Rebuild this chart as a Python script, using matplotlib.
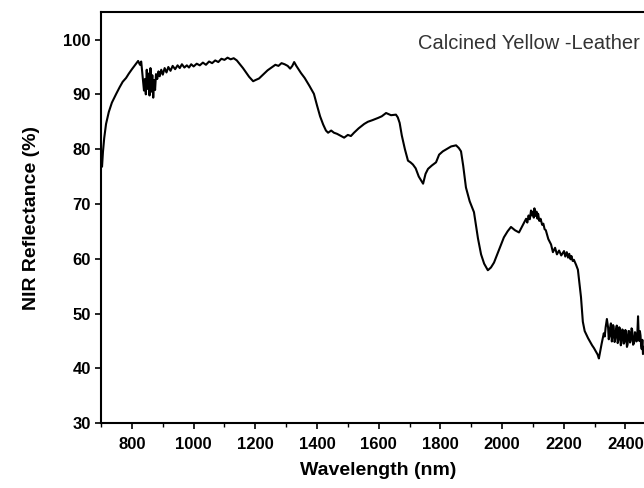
import matplotlib
matplotlib.use("Agg")
import matplotlib.pyplot as plt
from matplotlib.ticker import MultipleLocator

wavelength = [700, 703, 706, 710, 716, 725, 735, 749, 760, 770, 781, 790, 800, 808, 813, 820,
              826, 830, 835, 839, 842, 845, 848, 851, 854, 857, 860, 863, 866, 869, 872, 875,
              878, 882, 886, 890, 895, 900, 906, 912, 918, 925, 932, 940, 948, 955, 962, 970,
              978, 985, 992, 1000, 1010, 1020, 1030, 1040, 1050, 1060, 1070, 1080, 1090, 1100,
              1110, 1120, 1130, 1140, 1150, 1160, 1170, 1180, 1193, 1200, 1212, 1225, 1240, 1255,
              1265, 1275, 1285, 1295, 1305, 1313, 1320, 1326, 1333, 1340, 1348, 1360, 1375, 1390,
              1400, 1410, 1420, 1429, 1436, 1446, 1455, 1465, 1475, 1488, 1500, 1510, 1520, 1535,
              1553, 1565, 1580, 1598, 1610, 1624, 1640, 1656, 1662, 1668, 1675, 1685, 1695, 1703,
              1711, 1720, 1730, 1744, 1752, 1760, 1772, 1786, 1796, 1808, 1820, 1835, 1851, 1860,
              1867, 1874, 1883, 1895, 1909, 1922, 1932, 1942, 1954, 1964, 1974, 1990, 2006, 2018,
              2029, 2042, 2055, 2066, 2078, 2082, 2086, 2090, 2094, 2097, 2100, 2103, 2105, 2108,
              2112, 2115, 2117, 2121, 2125, 2130, 2134, 2138, 2142,
              2150, 2159, 2165, 2172, 2178, 2185, 2192, 2201, 2205, 2210, 2214, 2218, 2222, 2225,
              2229, 2233, 2240, 2246,
              2251, 2256, 2262, 2268, 2273, 2279, 2285, 2292, 2298, 2305, 2310, 2314, 2318, 2323,
              2330, 2333, 2336, 2340, 2344, 2346, 2349, 2351, 2353, 2356, 2358, 2360, 2362, 2365,
              2367, 2370, 2372, 2375, 2377, 2380, 2382, 2385, 2387, 2390, 2392, 2395,
              2397, 2400, 2402, 2405, 2407, 2410, 2412, 2415, 2417, 2420, 2422, 2425, 2428, 2431,
              2434, 2436, 2438, 2441, 2443, 2445, 2447, 2449, 2451, 2453, 2455, 2457,
              2460, 2462, 2465, 2467]

reflectance = [77.5, 76.8, 79.5, 82.0, 84.6, 86.8, 88.5, 90.1, 91.3, 92.3, 93.0, 93.8, 94.6, 95.2, 95.6, 96.1,
               95.4, 96.0, 93.0, 90.7, 92.8, 90.0, 94.5, 91.0, 93.8, 89.8, 94.8, 90.5, 93.5, 89.4, 92.6, 90.8,
               93.7, 92.8, 94.2, 93.3, 94.5, 93.6, 94.8, 94.0, 95.0, 94.3, 95.2, 94.6, 95.3, 94.8, 95.5, 94.9,
               95.3, 94.9, 95.5, 95.1, 95.6, 95.3, 95.8, 95.4, 96.0, 95.7, 96.2, 95.9, 96.5, 96.3,
               96.7, 96.4, 96.6, 96.2, 95.5, 94.8, 94.0, 93.2, 92.4, 92.6, 92.9, 93.6, 94.4, 95.0,
               95.4, 95.2, 95.7, 95.5, 95.2, 94.7, 95.2, 95.9, 95.2, 94.6, 93.9, 93.0, 91.6, 90.1,
               88.0, 86.0, 84.5, 83.4, 83.0, 83.4, 83.0, 82.8, 82.5, 82.1, 82.6, 82.4, 83.0, 83.8,
               84.6, 85.0, 85.3, 85.7, 86.0, 86.6, 86.2, 86.3, 85.8, 84.8, 82.5, 80.0, 77.9, 77.6,
               77.2, 76.5, 75.0, 73.7, 75.5, 76.4, 77.0, 77.6, 79.0, 79.6, 80.0, 80.5, 80.7, 80.2,
               79.6, 77.0, 73.0, 70.5, 68.5, 63.7, 60.8, 59.1, 57.9, 58.4, 59.3, 61.6, 63.9, 65.0,
               65.8, 65.2, 64.8, 66.0, 67.3, 66.6, 67.9, 67.2, 68.8, 67.9, 68.6, 67.5, 69.2, 67.8,
               68.6, 67.3, 68.2, 66.9, 67.3, 66.2, 66.4, 65.4, 65.2,
               63.6, 62.6, 61.2, 62.0, 60.8, 61.5, 60.6, 61.4, 60.4, 61.2, 60.2, 60.9, 59.9, 60.5,
               59.6, 59.8, 58.9, 58.0,
               55.5, 53.0, 48.5, 46.8, 46.2, 45.5, 44.9, 44.2, 43.7, 43.0, 42.5, 41.8, 43.0, 44.5,
               46.4, 45.8, 47.5, 49.0, 47.4, 45.3, 46.0, 47.6, 48.2, 44.9, 45.8, 47.9, 47.6, 44.8,
               45.4, 47.2, 47.8, 44.6, 45.1, 47.5, 47.3, 44.2, 44.6, 47.1, 46.9, 44.5,
               44.8, 47.0, 46.5, 43.9, 44.3, 46.8, 46.8, 44.7, 45.0, 47.3, 47.0, 44.3, 44.6, 46.6,
               46.2, 44.9, 45.3, 49.5, 46.2, 45.0, 46.8, 46.0, 44.1, 43.5, 45.2, 42.6,
               43.4, 44.0, 42.2, 41.5]

x_ticks = [800, 1000, 1200, 1400, 1600, 1800, 2000, 2200, 2400]
y_ticks = [30, 40, 50, 60, 70, 80, 90, 100]
label_text = "Calcined Yellow -Leather"

plt.rcParams['font.family'] = ['Liberation Sans', 'DejaVu Sans']

fig = plt.figure(figsize=(6.44, 4.88), dpi=100)
ax = fig.add_axes([0.157, 0.133, 0.862, 0.842])
ax.plot(wavelength, reflectance, color='black', linewidth=1.5)

ax.set_xlim(700, 2500)
ax.set_ylim(30, 105)
ax.set_xticks(x_ticks)
ax.set_yticks(y_ticks)
ax.xaxis.set_minor_locator(MultipleLocator(100))
ax.tick_params(axis='both', which='major', direction='out', length=4, width=1.2,
               labelsize=12)
ax.tick_params(axis='x', which='major', pad=6)
ax.tick_params(axis='x', which='minor', direction='out', length=3, width=1.0)
for lab in ax.get_xticklabels() + ax.get_yticklabels():
    lab.set_fontweight('bold')
for s in ax.spines.values():
    s.set_linewidth(1.5)

ax.set_xlabel("Wavelength (nm)", fontsize=14, fontweight='bold', labelpad=7)
ax.set_ylabel("NIR Reflectance (%)", fontsize=14, fontweight='bold', labelpad=17)

ax.text(0.97, 0.925, label_text, transform=ax.transAxes, fontsize=14.5,
        color='#333333', ha='right', va='center')

fig.savefig("out.png", dpi=100)
